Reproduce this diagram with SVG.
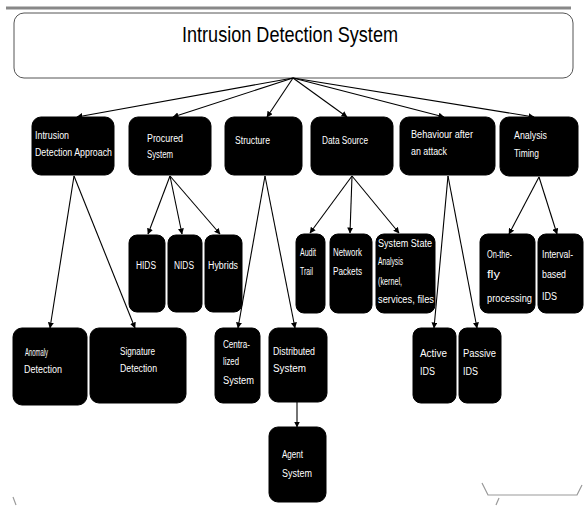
<svg xmlns="http://www.w3.org/2000/svg" width="584" height="506" viewBox="0 0 584 506">
<style>
.box{fill:#000;stroke:#000;stroke-width:1}
.t{font-family:"Liberation Sans","Arial",sans-serif;font-size:10px;fill:#fff}
.c{text-anchor:middle}
.ln{stroke:#000;stroke-width:1.1;fill:none;marker-end:url(#ah)}
.gr{stroke:#999;stroke-width:1.2;fill:none}
</style>
<defs>
<marker id="ah" markerWidth="6" markerHeight="6" refX="5.5" refY="3" orient="auto" markerUnits="userSpaceOnUse">
<path d="M0,0 L6,3 L0,6 Z" fill="#000"/>
</marker>
</defs>
<rect width="584" height="506" fill="#fff"/>
<line x1="6" y1="8" x2="571" y2="8" stroke="#888" stroke-width="3"/>
<g id="title">
<rect x="14" y="13" width="559" height="65" rx="10" fill="#fff" stroke="#555" stroke-width="1"/>
<text x="182" y="42" font-family="Liberation Sans, Arial, sans-serif" font-size="22" fill="#000" textLength="216" lengthAdjust="spacingAndGlyphs">Intrusion Detection System</text>
</g>
<g id="connectors">
<line class="ln" x1="293" y1="78" x2="77" y2="117"/>
<line class="ln" x1="293" y1="78" x2="173" y2="117"/>
<line class="ln" x1="293" y1="78" x2="267" y2="117"/>
<line class="ln" x1="293" y1="78" x2="347" y2="117"/>
<line class="ln" x1="293" y1="78" x2="444" y2="117"/>
<line class="ln" x1="293" y1="78" x2="534" y2="117"/>
<line class="ln" x1="74" y1="176" x2="50" y2="328"/>
<line class="ln" x1="74" y1="176" x2="135" y2="328"/>
<line class="ln" x1="170" y1="176" x2="148" y2="234"/>
<line class="ln" x1="170" y1="176" x2="182" y2="234"/>
<line class="ln" x1="170" y1="176" x2="220" y2="234"/>
<line class="ln" x1="265" y1="176" x2="238" y2="328"/>
<line class="ln" x1="265" y1="176" x2="295" y2="328"/>
<line class="ln" x1="352" y1="176" x2="310" y2="233"/>
<line class="ln" x1="352" y1="176" x2="350" y2="233"/>
<line class="ln" x1="352" y1="176" x2="399" y2="233"/>
<line class="ln" x1="448" y1="176" x2="434" y2="328"/>
<line class="ln" x1="448" y1="176" x2="477" y2="328"/>
<line class="ln" x1="539" y1="177" x2="509" y2="234"/>
<line class="ln" x1="539" y1="177" x2="557" y2="234"/>
<line class="ln" x1="297" y1="402" x2="297" y2="427"/>
</g>
<g id="n-approach">
<rect class="box" x="32" y="117" width="82" height="58" rx="9"/>
<text class="t" x="35" y="139" textLength="34" lengthAdjust="spacingAndGlyphs">Intrusion</text>
<text class="t" x="35" y="156" textLength="77" lengthAdjust="spacingAndGlyphs">Detection  Approach</text>
</g>
<g id="n-procured">
<rect class="box" x="129" y="117" width="82" height="58" rx="9"/>
<text class="t" x="147" y="142" textLength="36" lengthAdjust="spacingAndGlyphs">Procured</text>
<text class="t" x="147" y="158" textLength="26" lengthAdjust="spacingAndGlyphs">System</text>
</g>
<g id="n-structure">
<rect class="box" x="225" y="117" width="77" height="58" rx="9"/>
<text class="t" x="235" y="144" textLength="35" lengthAdjust="spacingAndGlyphs">Structure</text>
</g>
<g id="n-datasource">
<rect class="box" x="311" y="117" width="82" height="58" rx="9"/>
<text class="t" x="322" y="144" textLength="46" lengthAdjust="spacingAndGlyphs">Data Source</text>
</g>
<g id="n-behaviour">
<rect class="box" x="400" y="117" width="95" height="58" rx="9"/>
<text class="t" x="411" y="138" textLength="62" lengthAdjust="spacingAndGlyphs">Behaviour after</text>
<text class="t" x="411" y="155" textLength="36" lengthAdjust="spacingAndGlyphs">an attack</text>
</g>
<g id="n-timing">
<rect class="box" x="500" y="117" width="78" height="59" rx="9"/>
<text class="t" x="514" y="139" textLength="33" lengthAdjust="spacingAndGlyphs">Analysis</text>
<text class="t" x="514" y="157" textLength="25" lengthAdjust="spacingAndGlyphs">Timing</text>
</g>
<g id="n-hids">
<rect class="box" x="129" y="235" width="36" height="77" rx="8"/>
<text class="t c" x="146" y="269" textLength="20" lengthAdjust="spacingAndGlyphs">HIDS</text>
</g>
<g id="n-nids">
<rect class="box" x="168" y="235" width="34" height="77" rx="8"/>
<text class="t c" x="184" y="269" textLength="20" lengthAdjust="spacingAndGlyphs">NIDS</text>
</g>
<g id="n-hybrids">
<rect class="box" x="205" y="235" width="37" height="77" rx="8"/>
<text class="t c" x="223" y="269" textLength="30" lengthAdjust="spacingAndGlyphs">Hybrids</text>
</g>
<g id="n-audit">
<rect class="box" x="296" y="234" width="29" height="79" rx="8"/>
<text class="t" x="300" y="256" textLength="16" lengthAdjust="spacingAndGlyphs">Audit</text>
<text class="t" x="300" y="275" textLength="13" lengthAdjust="spacingAndGlyphs">Trail</text>
</g>
<g id="n-network">
<rect class="box" x="330" y="234" width="42" height="79" rx="8"/>
<text class="t" x="333" y="256" textLength="29" lengthAdjust="spacingAndGlyphs">Network</text>
<text class="t" x="333" y="275" textLength="29" lengthAdjust="spacingAndGlyphs">Packets</text>
</g>
<g id="n-systemstate">
<rect class="box" x="376" y="234" width="59" height="79" rx="8"/>
<text class="t" x="378" y="247" textLength="54" lengthAdjust="spacingAndGlyphs">System State</text>
<text class="t" x="378" y="265" textLength="25" lengthAdjust="spacingAndGlyphs">Analysis</text>
<text class="t" x="378" y="285" textLength="24" lengthAdjust="spacingAndGlyphs">(kernel,</text>
<text class="t" x="378" y="303" textLength="56" lengthAdjust="spacingAndGlyphs">services, files</text>
</g>
<g id="n-onthefly">
<rect class="box" x="480" y="234" width="55" height="79" rx="8"/>
<text class="t" x="487" y="258" textLength="25" lengthAdjust="spacingAndGlyphs">On-the-</text>
<text class="t" x="487" y="278" textLength="13" lengthAdjust="spacingAndGlyphs">fly</text>
<text class="t" x="487" y="302" textLength="45" lengthAdjust="spacingAndGlyphs">processing</text>
</g>
<g id="n-interval">
<rect class="box" x="538" y="234" width="45" height="79" rx="8"/>
<text class="t" x="542" y="258" textLength="31" lengthAdjust="spacingAndGlyphs">Interval-</text>
<text class="t" x="542" y="278" textLength="24" lengthAdjust="spacingAndGlyphs">based</text>
<text class="t" x="542" y="300" textLength="15" lengthAdjust="spacingAndGlyphs">IDS</text>
</g>
<g id="n-anomaly">
<rect class="box" x="13" y="328" width="74" height="77" rx="9"/>
<text class="t" x="25" y="356" textLength="23" lengthAdjust="spacingAndGlyphs">Anomaly</text>
<text class="t" x="24" y="373" textLength="38" lengthAdjust="spacingAndGlyphs">Detection</text>
</g>
<g id="n-signature">
<rect class="box" x="90" y="328" width="96" height="75" rx="9"/>
<text class="t" x="120" y="355" textLength="35" lengthAdjust="spacingAndGlyphs">Signature</text>
<text class="t" x="120" y="372" textLength="37" lengthAdjust="spacingAndGlyphs">Detection</text>
</g>
<g id="n-centralized">
<rect class="box" x="215" y="328" width="45" height="75" rx="8"/>
<text class="t" x="223" y="348" textLength="27" lengthAdjust="spacingAndGlyphs">Centra-</text>
<text class="t" x="223" y="365" textLength="16" lengthAdjust="spacingAndGlyphs">lized</text>
<text class="t" x="223" y="384" textLength="31" lengthAdjust="spacingAndGlyphs">System</text>
</g>
<g id="n-distributed">
<rect class="box" x="269" y="328" width="58" height="74" rx="9"/>
<text class="t" x="273" y="355" textLength="42" lengthAdjust="spacingAndGlyphs">Distributed</text>
<text class="t" x="273" y="372" textLength="33" lengthAdjust="spacingAndGlyphs">System</text>
</g>
<g id="n-agent">
<rect class="box" x="269" y="427" width="57" height="75" rx="9"/>
<text class="t" x="282" y="458" textLength="21" lengthAdjust="spacingAndGlyphs">Agent</text>
<text class="t" x="282" y="477" textLength="30" lengthAdjust="spacingAndGlyphs">System</text>
</g>
<g id="n-active">
<rect class="box" x="413" y="328" width="43" height="75" rx="8"/>
<text class="t" x="420" y="357" textLength="27" lengthAdjust="spacingAndGlyphs">Active</text>
<text class="t" x="420" y="375" textLength="15" lengthAdjust="spacingAndGlyphs">IDS</text>
</g>
<g id="n-passive">
<rect class="box" x="459" y="328" width="42" height="75" rx="8"/>
<text class="t" x="463" y="357" textLength="33" lengthAdjust="spacingAndGlyphs">Passive</text>
<text class="t" x="463" y="375" textLength="15" lengthAdjust="spacingAndGlyphs">IDS</text>
</g>
<path class="gr" d="M482,483 L488,495 L577,495 L582,485"/>
<path class="gr" d="M499,498 L496,505"/>
<path class="gr" d="M13,497 L16,505"/>
</svg>
